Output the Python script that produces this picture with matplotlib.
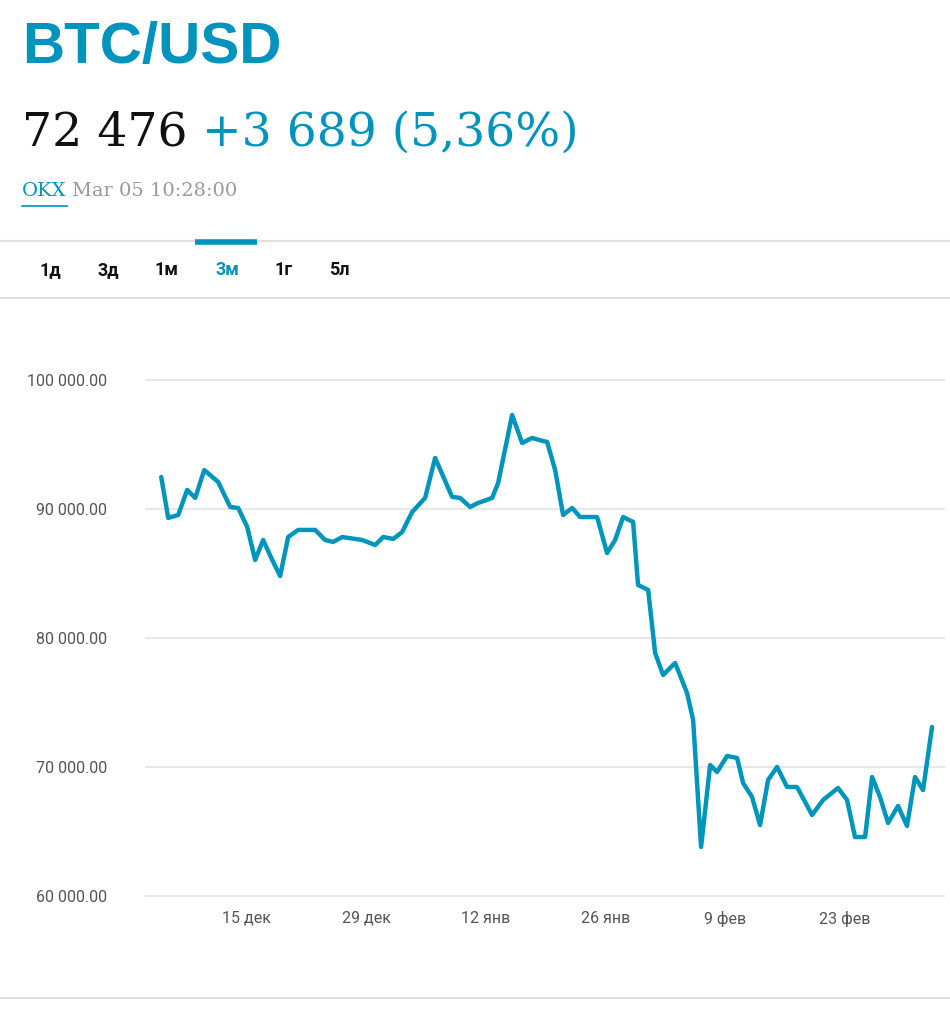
import matplotlib
matplotlib.use("Agg")
import matplotlib.pyplot as plt
from matplotlib.lines import Line2D
import datetime as dt

start = dt.datetime(2025, 12, 5)
day_offsets = [0, 0.82, 1.99, 3.04, 3.98, 5.04, 6.67, 8.08, 9.02, 10.07, 11.0, 11.94, 13.0, 13.93,
               14.87, 16.04, 18.03, 19.2, 20.14, 21.2, 23.54, 25.06, 26.0, 27.17, 28.22, 29.39,
               30.91, 32.08, 34.07, 35.01, 36.18, 37.12, 38.76, 39.46, 41.1, 42.27, 43.44, 44.73,
               45.2, 46.14, 47.07, 48.13, 49.06, 51.05, 52.22, 53.16, 54.1, 55.27, 55.85, 57.03,
               57.85, 58.78, 60.19, 61.59, 62.3, 63.23, 64.29, 65.1, 66.28, 67.45, 68.15, 69.2,
               70.14, 71.08, 72.13, 73.3, 74.47, 76.23, 77.52, 79.27, 80.33, 81.26, 82.44, 83.26,
               84.19, 85.13, 86.3, 87.35, 88.29, 89.23, 90.28]
prices = [92470, 89300, 89530, 91470, 90850, 93010, 92090, 90150, 90070, 88600, 86040, 87590,
          86040, 84800, 87820, 88370, 88370, 87590, 87440, 87820, 87590, 87200, 87820, 87670,
          88210, 89760, 90850, 93950, 90930, 90850, 90150, 90460, 90850, 92010, 97280, 95110,
          95500, 95260, 95190, 93010, 89530, 90070, 89370, 89370, 86580, 87590, 89370, 88990,
          84100, 83720, 78830, 77130, 78060, 75730, 73640, 63800, 70150, 69610, 70850, 70700,
          68760, 67670, 65500, 68990, 70000, 68450, 68450, 66280, 67440, 68370, 67440, 64570,
          64570, 69220, 67670, 65660, 66980, 65430, 69220, 68210, 73100]
y_ticks = [60000, 70000, 80000, 90000, 100000]
x_tick_dates = [dt.datetime(2025, 12, 15), dt.datetime(2025, 12, 29), dt.datetime(2026, 1, 12),
                dt.datetime(2026, 1, 26), dt.datetime(2026, 2, 9), dt.datetime(2026, 2, 23)]
x_tick_labels = ["15 дек", "29 дек", "12 янв", "26 янв", "9 фев", "23 фев"]
tabs = ["1д", "3д", "1м", "3м", "1г", "5л"]
active_tab = "3м"

BLUE = "#0093BD"
W, H = 950, 1014
fig = plt.figure(figsize=(9.5, 10.14), dpi=100)

def fy(y):
    return 1 - y / H

def fx(x):
    return x / W

fig.text(fx(22), fy(48), "BTC/USD", color=BLUE, fontsize=42, fontweight="bold",
         family="Liberation Sans", va="center")
t1 = fig.text(fx(22), fy(133), "72 476", color="#111111", fontsize=34,
              family="DejaVu Serif", va="center")
fig.canvas.draw()
r = fig.canvas.get_renderer()
bb = t1.get_window_extent(r)
fig.text(bb.x1 / W + 0.015, fy(133), "+3 689 (5,36%)", color=BLUE, fontsize=34,
         family="DejaVu Serif", va="center")
t3 = fig.text(fx(22), fy(191), "OKX", color=BLUE, fontsize=14, family="DejaVu Serif", va="center")
bb3 = t3.get_window_extent(r)
fig.text(bb3.x1 / W + 0.006, fy(191), "Mar 05 10:28:00", color="#999999", fontsize=14,
         family="DejaVu Serif", va="center")
fig.add_artist(Line2D([fx(22), bb3.x1 / W], [fy(206), fy(206)], color=BLUE, lw=1.2,
                      transform=fig.transFigure))

for y in (241, 298, 998):
    fig.add_artist(Line2D([0, 1], [fy(y), fy(y)], color="#E0E0E0", lw=1.5,
                          transform=fig.transFigure))
tab_x = [50, 108, 166, 227, 284, 339]
for tx, lab in zip(tab_x, tabs):
    fig.text(fx(tx), fy(270), lab, ha="center", va="center", fontsize=13, fontweight="bold",
             color=BLUE if lab == active_tab else "#111111", family="Roboto")
    if lab == active_tab:
        fig.add_artist(Line2D([fx(195), fx(257)], [fy(242), fy(242)], color=BLUE, lw=4,
                              transform=fig.transFigure, solid_capstyle="butt"))

ax = fig.add_axes([fx(145), fy(905), fx(945) - fx(145), fy(330) - fy(905)])
dates = [start + dt.timedelta(days=d) for d in day_offsets]
ax.plot(dates, prices, color="#0096BC", lw=3.2, solid_joinstyle="round", solid_capstyle="round")
ax.set_ylim(60000 - 9 * 77.5, 60000 + 566 * 77.5)
ax.set_xlim(start - dt.timedelta(days=1.9), start + dt.timedelta(days=91.8))
ax.set_yticks(y_ticks)
ax.set_yticklabels([f"{v:,.2f}".replace(",", " ") for v in y_ticks])
ax.set_xticks(x_tick_dates)
ax.set_xticklabels(x_tick_labels)
ax.grid(axis="y", color="#E3E3E3", lw=1.2)
ax.set_axisbelow(True)
for s in ax.spines.values():
    s.set_visible(False)
ax.tick_params(length=0, labelsize=11.5, colors="#555555")
ax.tick_params(axis="x", pad=4)
ax.tick_params(axis="y", pad=27)
for lab in ax.get_xticklabels() + ax.get_yticklabels():
    lab.set_family("Roboto")
fig.savefig("out.png", dpi=100)
